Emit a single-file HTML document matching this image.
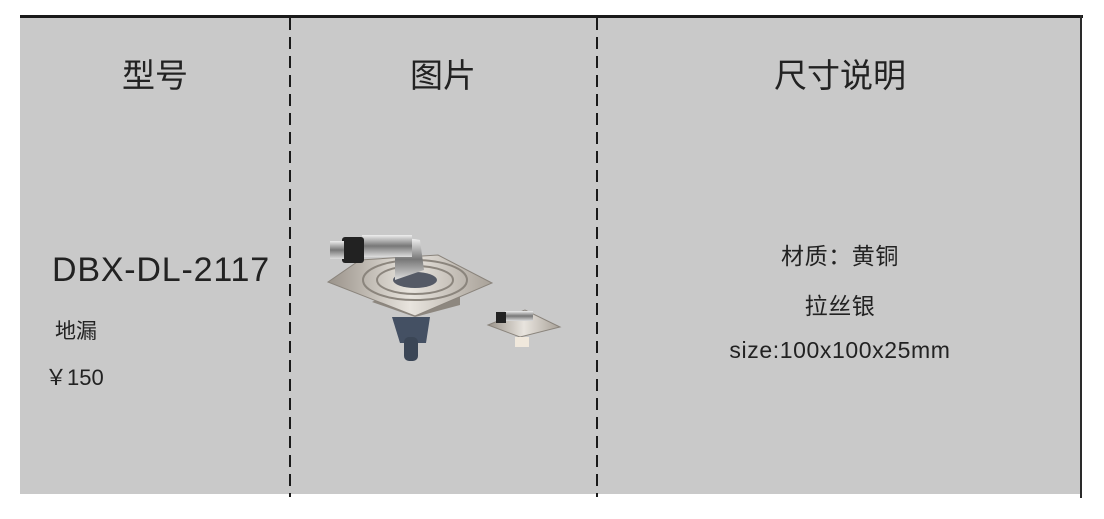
<!DOCTYPE html>
<html><head><meta charset="utf-8"><style>
html,body{margin:0;padding:0;background:#fff;}
body{width:1104px;height:519px;position:relative;overflow:hidden;font-family:"Liberation Sans","Noto Sans CJK SC",sans-serif;color:#222;}
.panel{position:absolute;left:20px;top:16px;width:1061px;height:478px;background:#c9c9c9;}
.top{position:absolute;left:20px;top:15px;width:1063px;height:3px;background:#1a1a1a;}
.right{position:absolute;left:1080px;top:15px;width:2px;height:483px;background:#2a2a2a;}
.dash{position:absolute;top:18px;width:2px;height:479px;background:repeating-linear-gradient(to bottom,#1a1a1a 0 12px,transparent 12px 19px);}
.t{position:absolute;white-space:nowrap;}
.h{font-size:33px;top:49px;transform:translateX(-50%);}
.c{font-size:23px;transform:translateX(-50%);left:840px;letter-spacing:0.6px;}
</style></head><body>
<div class="panel"></div><div class="top"></div><div class="right"></div>
<div class="dash" style="left:289px"></div><div class="dash" style="left:596px"></div>
<div class="t h" style="left:155px">型号</div>
<div class="t h" style="left:443px">图片</div>
<div class="t h" style="left:840px">尺寸说明</div>
<div class="t" style="left:52px;top:251px;font-size:34px;letter-spacing:0.8px">DBX-DL-2117</div>
<div class="t" style="left:55px;top:315px;font-size:21px">地漏</div>
<div class="t" style="left:45px;top:360px;font-size:22px">￥150</div>
<div class="t c" style="top:237px">材质：黄铜</div>
<div class="t c" style="top:287px">拉丝银</div>
<div class="t c" style="top:337px">size:100x100x25mm</div>
<svg style="position:absolute;left:320px;top:225px" width="250" height="145">
<defs><linearGradient id="m" x1="0" x2="1"><stop offset="0" stop-color="#9a938a"/><stop offset=".5" stop-color="#e8e4de"/><stop offset="1" stop-color="#a8a198"/></linearGradient>
<linearGradient id="ch" x1="0" y1="0" x2="0" y2="1"><stop offset="0" stop-color="#eee"/><stop offset=".5" stop-color="#777"/><stop offset="1" stop-color="#ddd"/></linearGradient></defs>
<path d="M72 92 L110 92 L106 118 L80 118Z" fill="#445063"/>
<rect x="84" y="112" width="14" height="24" rx="5" fill="#3b4656"/>
<path d="M52 77 L95 92 L140 80 L140 68 L95 54Z" fill="#8d877f"/>
<path d="M8 57 L95 91 L172 58 L118 30 L40 35Z" fill="url(#m)" stroke="#8a847c"/>
<ellipse cx="95" cy="55" rx="52" ry="20" fill="none" stroke="#8b857d" stroke-width="2"/>
<ellipse cx="95" cy="55" rx="38" ry="14" fill="none" stroke="#8b857d" stroke-width="2"/>
<ellipse cx="95" cy="55" rx="22" ry="8" fill="#555a66"/>
<path d="M75 55 L75 25 Q80 10 100 15 L104 45 Z" fill="url(#ch)"/>
<rect x="42" y="10" width="50" height="22" fill="url(#ch)"/>
<rect x="22" y="12" width="22" height="26" rx="3" fill="#222"/>
<rect x="10" y="16" width="14" height="18" fill="url(#ch)"/>
<path d="M168 100 L200 112 L240 102 L205 85 Z" fill="url(#m)" stroke="#8a847c"/>
<rect x="185" y="86" width="28" height="10" fill="url(#ch)"/>
<rect x="176" y="87" width="10" height="11" fill="#222"/>
<rect x="195" y="112" width="14" height="10" fill="#f0e8dc"/>
</svg>
</body></html>
